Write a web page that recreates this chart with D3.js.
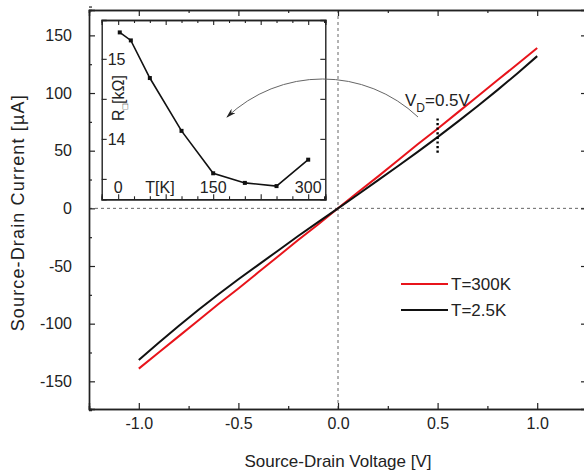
<!DOCTYPE html>
<html>
<head>
<meta charset="utf-8">
<script src="https://cdn.jsdelivr.net/npm/d3@7/dist/d3.min.js"></script>
<style>
  body { margin: 0; background: #fff; }
  svg { font-family: "Liberation Sans", Arial, sans-serif; }
  .axis path, .axis line { stroke: #222; }
  .axis text { font-size: 16px; fill: #222; }
</style>
</head>
<body>
<script>
// main I-V curves
const voltage = [-1.0, -0.9, -0.8, -0.7, -0.6, -0.5, -0.4, -0.3, -0.2, -0.1, 0,
                 0.1, 0.2, 0.3, 0.4, 0.5, 0.6, 0.7, 0.8, 0.9, 1.0];
const current300K = [-139, -125, -111, -97, -83, -69.5, -55.5, -41.5, -27.5, -14, 0,
                     14, 27.5, 41.5, 55.5, 69, 83, 97, 111, 125, 139];
const current2K = [-131.5, -116.5, -102, -88, -74.5, -61.5, -49, -36.5, -24, -12, 0,
                   12, 24.3, 36.5, 49, 61.8, 75, 88.5, 102.5, 117, 132];
const seriesNames = ["T=300K", "T=2.5K"];
const seriesColors = ["#e8141b", "#111"];

// inset: sheet resistance vs temperature
const insetT = [2.5, 20, 50, 100, 150, 200, 250, 300];
const insetR = [15.33, 15.23, 14.76, 14.10, 13.57, 13.45, 13.41, 13.74];

const xTicks = [-1, -0.5, 0, 0.5, 1];
const yTicks = [-150, -100, -50, 0, 50, 100, 150];
const markV = 0.5;

const w = 584, h = 476;
const svg = d3.select("body").append("svg").attr("width", w).attr("height", h);

const x = d3.scaleLinear().domain([-1.25, 1.25]).range([89, 587]);
const y = d3.scaleLinear().domain([-174, 172]).range([409, 10]);

// zero guide lines
svg.append("line")
    .attr("x1", x(0)).attr("x2", x(0)).attr("y1", y.range()[1]).attr("y2", y.range()[0])
    .attr("stroke", "#666").attr("stroke-width", 1).attr("stroke-dasharray", "3,3");
svg.append("line")
    .attr("x1", x.range()[0]).attr("x2", x.range()[1]).attr("y1", y(0)).attr("y2", y(0))
    .attr("stroke", "#666").attr("stroke-width", 1).attr("stroke-dasharray", "3,3");

// axes (inward ticks)
const minorX = d3.range(-1.25, 1.26, 0.25).filter(d => Math.abs(d * 2 - Math.round(d * 2)) > 1e-6);
const minorY = d3.range(-175, 176, 25).filter(d => d % 50 !== 0);

function drawAxis(axis, tx, ty) {
    return svg.append("g").attr("class", "axis")
        .attr("transform", "translate(" + tx + "," + ty + ")")
        .call(axis);
}

drawAxis(d3.axisBottom(x).tickValues(xTicks).tickSize(-6).tickPadding(9)
    .tickFormat(d => d.toFixed(1)), 0, y.range()[0]);
drawAxis(d3.axisBottom(x).tickValues(minorX).tickSize(-3).tickFormat(""), 0, y.range()[0]);
drawAxis(d3.axisTop(x).tickValues(xTicks).tickSize(-6).tickFormat(""), 0, y.range()[1]);
drawAxis(d3.axisTop(x).tickValues(minorX).tickSize(-3).tickFormat(""), 0, y.range()[1]);
drawAxis(d3.axisLeft(y).tickValues(yTicks).tickSize(-6).tickPadding(17)
    .tickFormat(d => String(d)), x.range()[0], 0);
drawAxis(d3.axisLeft(y).tickValues(minorY).tickSize(-3).tickFormat(""), x.range()[0], 0);
drawAxis(d3.axisRight(y).tickValues(yTicks).tickSize(-6).tickFormat(""), x.range()[1], 0);
drawAxis(d3.axisRight(y).tickValues(minorY).tickSize(-3).tickFormat(""), x.range()[1], 0);

svg.selectAll(".axis path").attr("stroke-width", 1.4);
svg.selectAll(".axis line").attr("stroke-width", 1.2);

// axis titles
svg.append("text")
    .attr("x", x(0)).attr("y", 467)
    .attr("text-anchor", "middle").attr("font-size", "17px").attr("fill", "#222")
    .text("Source-Drain Voltage [V]");
svg.append("text")
    .attr("transform", "translate(24," + (y(0) + 5) + ") rotate(-90)")
    .attr("text-anchor", "middle").attr("font-size", "18px").attr("fill", "#222")
    .attr("textLength", 236).attr("lengthAdjust", "spacing")
    .text("Source-Drain Current [µA]");

// curves
const line = d3.line().x(d => x(d[0])).y(d => y(d[1]));
[current300K, current2K].forEach((s, i) => {
    svg.append("path")
        .datum(voltage.map((v, j) => [v, s[j]]))
        .attr("d", line)
        .attr("fill", "none")
        .attr("stroke", seriesColors[i])
        .attr("stroke-width", 2);
});

// dotted marker at V_D = 0.5 V
svg.append("line")
    .attr("x1", x(markV)).attr("x2", x(markV)).attr("y1", y(78)).attr("y2", y(48))
    .attr("stroke", "#000").attr("stroke-width", 2.4).attr("stroke-dasharray", "2.2,2.4");

const vlab = svg.append("text").attr("x", 405).attr("y", 106)
    .attr("font-size", "17px").attr("fill", "#222");
vlab.append("tspan").text("V");
vlab.append("tspan").attr("font-size", "12px").attr("dy", 6).text("D");
vlab.append("tspan").attr("dy", -6).text("=0.5V");

// legend
const legend = svg.append("g").attr("transform", "translate(401,284)");
seriesNames.forEach((name, i) => {
    const g = legend.append("g").attr("transform", "translate(0," + i * 26 + ")");
    g.append("line").attr("x1", 0).attr("x2", 47)
        .attr("stroke", seriesColors[i]).attr("stroke-width", 2);
    g.append("text").attr("x", 50).attr("y", 6)
        .attr("font-size", "17px").attr("fill", "#222").text(name);
});

// inset
const ix = d3.scaleLinear().domain([-26, 327]).range([101.7, 325.3]);
const iy = d3.scaleLinear().domain([13.245, 15.485]).range([199.3, 20]);
const inset = svg.append("g");

inset.append("rect")
    .attr("x", ix.range()[0]).attr("y", iy.range()[1])
    .attr("width", ix.range()[1] - ix.range()[0]).attr("height", iy.range()[0] - iy.range()[1])
    .attr("fill", "#fff").attr("stroke", "none");

const iTicks = d3.range(0, 326, 25);
const iMajor = d => d % 75 === 0;
const iyTicks = [13.5, 14, 14.5, 15];

function insetAxis(axis, tx, ty) {
    return inset.append("g").attr("class", "axis")
        .attr("transform", "translate(" + tx + "," + ty + ")")
        .call(axis);
}
insetAxis(d3.axisBottom(ix).tickValues(iTicks.filter(iMajor)).tickSize(-5).tickFormat(""), 0, iy.range()[0]);
insetAxis(d3.axisBottom(ix).tickValues(iTicks.filter(d => !iMajor(d))).tickSize(-3).tickFormat(""), 0, iy.range()[0]);
insetAxis(d3.axisTop(ix).tickValues(iTicks.filter(iMajor)).tickSize(-5).tickFormat(""), 0, iy.range()[1]);
insetAxis(d3.axisTop(ix).tickValues(iTicks.filter(d => !iMajor(d))).tickSize(-3).tickFormat(""), 0, iy.range()[1]);
insetAxis(d3.axisLeft(iy).tickValues(iyTicks).tickSize(-5).tickFormat(""), ix.range()[0], 0);
insetAxis(d3.axisRight(iy).tickValues(iyTicks).tickSize(-5).tickFormat(""), ix.range()[1], 0);
inset.selectAll(".axis path").attr("stroke-width", 1.4).attr("stroke", "#222");
inset.selectAll(".axis line").attr("stroke-width", 1.1);

// inset tick labels sit inside the frame
[0, 150, 300].forEach(t => {
    inset.append("text").attr("x", ix(t)).attr("y", 193)
        .attr("text-anchor", "middle").attr("font-size", "16px").attr("fill", "#222")
        .text(t);
});
inset.append("text").attr("x", ix(66)).attr("y", 193)
    .attr("text-anchor", "middle").attr("font-size", "16px").attr("fill", "#222")
    .text("T[K]");
[15, 14].forEach(r => {
    inset.append("text").attr("x", ix.range()[0] + 6).attr("y", iy(r) + 6)
        .attr("font-size", "16px").attr("fill", "#222").text(r);
});
const rlab = inset.append("text")
    .attr("transform", "translate(124,98) rotate(-90)")
    .attr("text-anchor", "middle").attr("font-size", "16px").attr("fill", "#222");
rlab.append("tspan").text("R");
rlab.append("tspan").attr("font-size", "9px").attr("dy", 4).text("□");
rlab.append("tspan").attr("dy", -4).text("[kΩ]");

const idata = insetT.map((t, i) => [t, insetR[i]]);
inset.append("path").datum(idata)
    .attr("d", d3.line().x(d => ix(d[0])).y(d => iy(d[1])))
    .attr("fill", "none").attr("stroke", "#111").attr("stroke-width", 1.6);
inset.selectAll(".pt").data(idata).enter().append("rect")
    .attr("class", "pt")
    .attr("x", d => ix(d[0]) - 2).attr("y", d => iy(d[1]) - 2)
    .attr("width", 4).attr("height", 4).attr("fill", "#111");

// curved arrow from the marker into the inset, drawn on top
const defs = svg.append("defs");
defs.append("marker")
    .attr("id", "arrow").attr("viewBox", "0 0 10 6")
    .attr("refX", 9).attr("refY", 3)
    .attr("markerWidth", 11).attr("markerHeight", 6)
    .attr("markerUnits", "userSpaceOnUse")
    .attr("orient", "auto")
    .append("path").attr("d", "M0,0 L10,3 L0,6 L3,3 Z").attr("fill", "#222");
svg.append("path")
    .attr("d", "M418,117 A139,139 0 0,0 227,117")
    .attr("fill", "none").attr("stroke", "#666").attr("stroke-width", 1)
    .attr("marker-end", "url(#arrow)");
</script>
</body>
</html>
